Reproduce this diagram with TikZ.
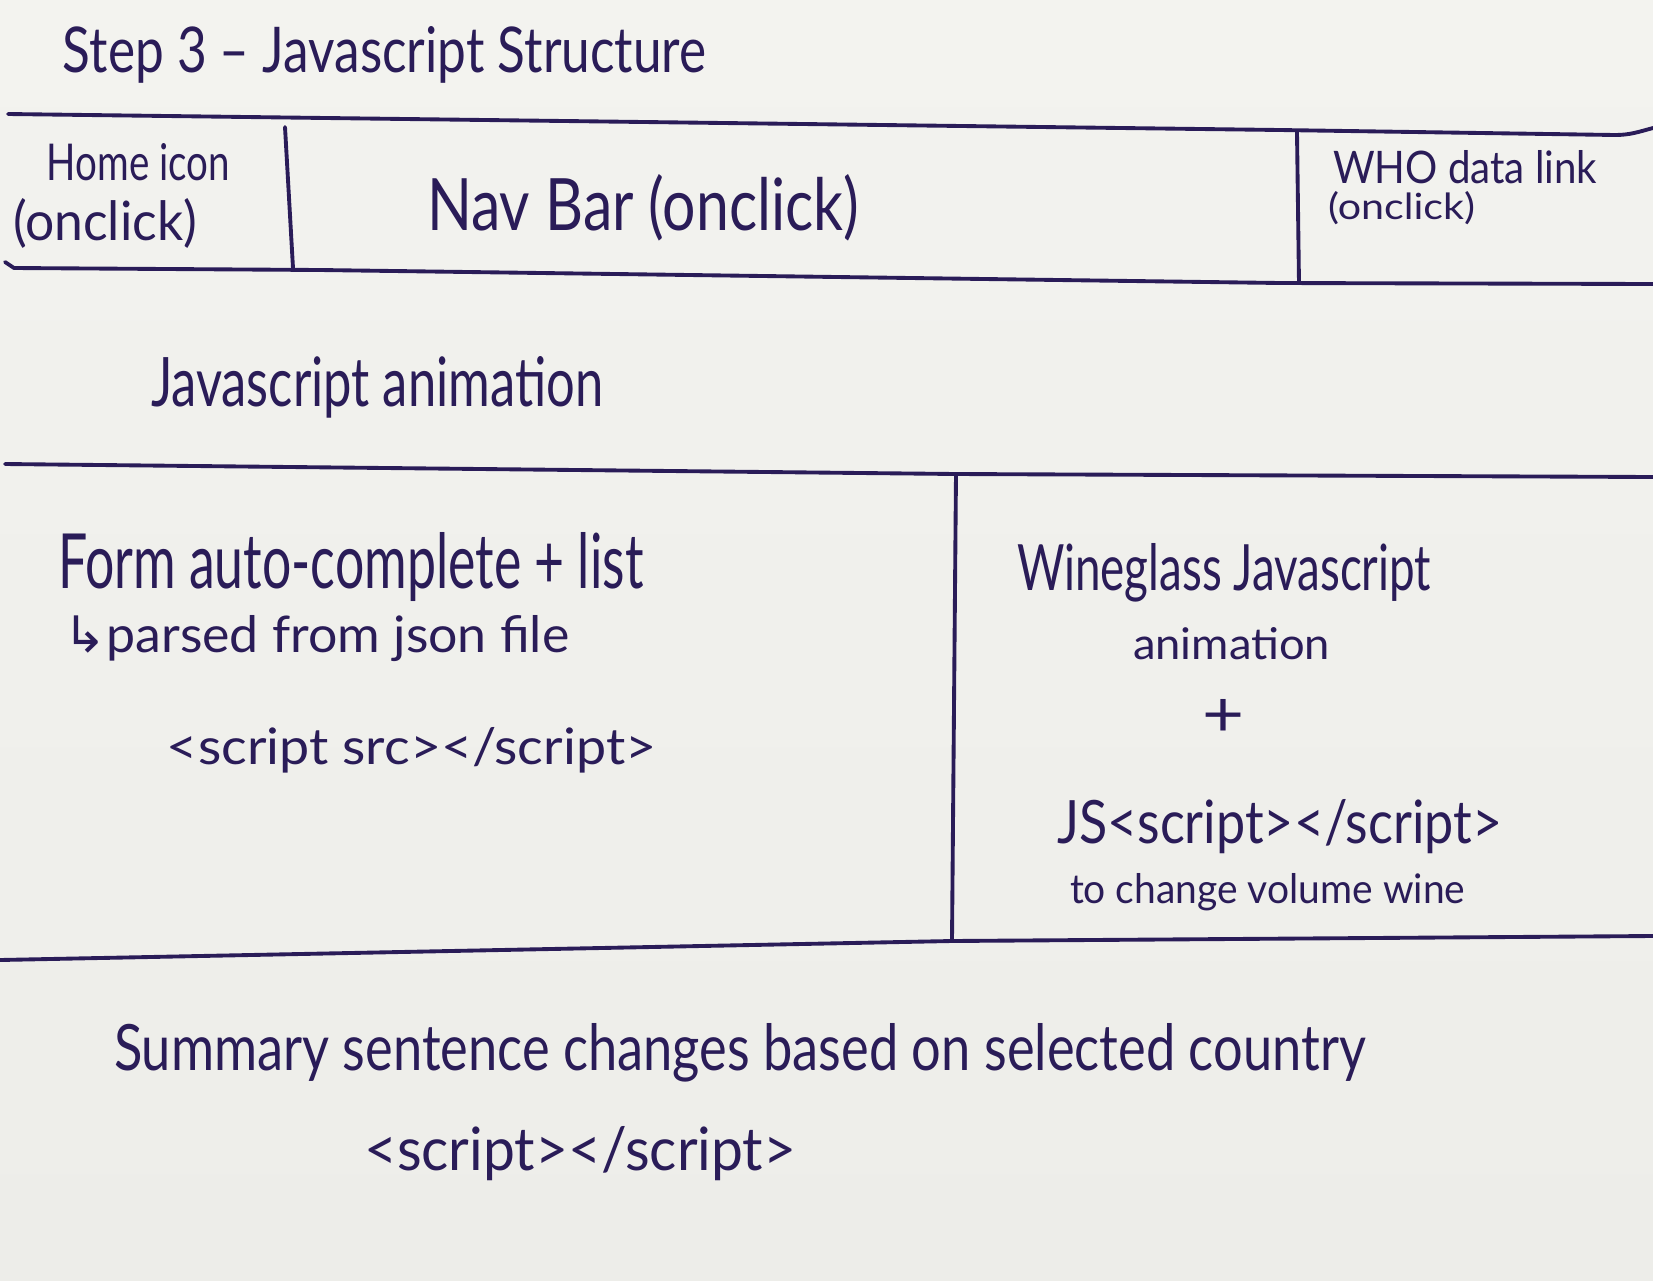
\documentclass[tikz,border=0pt]{standalone}
\usepackage{fontspec}
\setmainfont{Lato}
\newfontfamily\arrowfont{DejaVu Sans}
\usepackage{graphicx}
% handwritten-looking label scaled to a given width and height (in cm)
\newcommand{\hand}[3]{\resizebox{#1cm}{#2cm}{#3}}
\definecolor{paper}{HTML}{EDEDE9}
\definecolor{paperlight}{HTML}{F3F3EF}
\definecolor{ink}{HTML}{2A1C58}
\begin{document}
\begin{tikzpicture}[x=0.01cm,y=-0.01cm,
  pen/.style={draw=ink,line width=1.1pt,line cap=round,line join=round},
  hw/.style={inner sep=0pt,outer sep=0pt,text=ink,anchor=base west}]
% paper sheet
\shade[top color=paperlight,bottom color=paper] (0,0) rectangle (1653,1281);
\useasboundingbox (0,0) rectangle (1653,1281);

% ---- frame lines of the page layout ----
\coordinate (n1) at (8,114);
\coordinate (n2) at (1280,130);
\coordinate (n3) at (1615,135);
\coordinate (n4) at (1653,128);
\draw[pen] (n1) -- (n2) -- (n3) to[out=0,in=195] (n4);

\coordinate (b0) at (5,262);
\coordinate (b1) at (14,268);
\coordinate (b2) at (320,270);
\coordinate (b3) at (1280,283);
\coordinate (b4) at (1653,284);
\draw[pen] (b0) -- (b1) -- (b2) -- (b3) -- (b4);

\coordinate (d1t) at (285,127);
\coordinate (d1b) at (293,268);
\draw[pen] (d1t) -- (d1b);
\coordinate (d2t) at (1297,132);
\coordinate (d2b) at (1299,283);
\draw[pen] (d2t) -- (d2b);

\coordinate (m1) at (5,464);
\coordinate (m2) at (956,474);
\coordinate (m3) at (1653,477);
\draw[pen] (m1) -- (m2) -- (m3);

\coordinate (d3b) at (952,941);
\draw[pen] (m2) -- (d3b);

\coordinate (l1) at (0,960);
\coordinate (l3) at (1653,936);
\draw[pen] (l1) -- (d3b) -- (l3);

% ---- labels ----
\node[hw] (title) at (63,72) {\hand{6.43}{0.46}{Step 3 -- Javascript Structure}};

\node[hw] (home) at (47,180) {\hand{1.83}{0.37}{Home icon}};
\node[hw] (homeclick) at (13,240) {\hand{1.84}{0.42}{(onclick)}};

\node[hw] (nav) at (427,230) {\hand{4.32}{0.56}{Nav Bar (onclick)}};

\node[hw] (who) at (1333,183) {\hand{2.64}{0.33}{WHO data link}};
\node[hw] (whoclick) at (1328,219) {\hand{1.47}{0.28}{(onclick)}};

\node[hw] (anim) at (151,406) {\hand{4.52}{0.50}{Javascript animation}};

\node[hw] (form) at (58,588) {\hand{5.85}{0.56}{Form auto-complete + list}};
\node[hw] (parsed) at (63,652) {\hand{5.06}{0.37}{{\arrowfont ↳}parsed from json file}};
\node[hw] (src) at (167,764) {\hand{4.89}{0.37}{<script src></script>}};

\node[hw] (wine) at (1017,590) {\hand{4.14}{0.47}{Wineglass Javascript}};
\node[hw] (wineanim) at (1133,659) {\hand{1.97}{0.32}{animation}};
\node[hw] (plus) at (1202,736) {\hand{0.42}{0.37}{+}};
\node[hw] (js) at (1057,843) {\hand{4.45}{0.44}{JS<script></script>}};
\node[hw] (vol) at (1070,903) {\hand{3.95}{0.30}{to change volume wine}};

\node[hw] (summary) at (114,1070) {\hand{12.51}{0.47}{Summary sentence changes based on selected country}};
\node[hw] (tag) at (364,1170) {\hand{4.32}{0.44}{<script></script>}};
\end{tikzpicture}
\end{document}
